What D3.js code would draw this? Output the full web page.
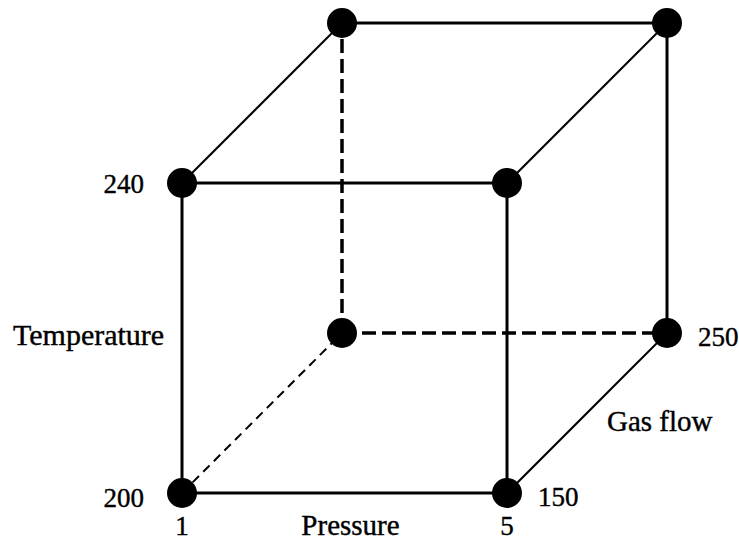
<!DOCTYPE html>
<html>
<head>
<meta charset="utf-8">
<script src="https://cdn.jsdelivr.net/npm/d3@7"></script>
<style>
  body { margin: 0; background: #fff; }
  svg text { font-family: "Liberation Serif", "Times New Roman", serif; fill: #000; stroke: #000; stroke-width: 0.4; }
</style>
</head>
<body>
<div id="chart"></div>
<script>
// factor levels of the 2^3 design
const pressureLevels = [1, 5];
const temperatureLevels = [200, 240];
const gasFlowLevels = [150, 250];
const factorNames = ["Pressure", "Temperature", "Gas flow"];

const width = 739;
const height = 543;

const svg = d3.select("#chart")
  .append("svg")
  .attr("width", width)
  .attr("height", height);

// front face scales, gas flow pushes the point back (right and up)
const x = d3.scaleLinear().domain(pressureLevels).range([182, 507]);
const y = d3.scaleLinear().domain(temperatureLevels).range([493, 183]);
const depth = d3.scaleLinear().domain(gasFlowLevels).range([0, 160]);

const px = d => x(d.p) + depth(d.g);
const py = d => y(d.t) - depth(d.g);

// all 8 corners
const corners = [];
pressureLevels.forEach(p => temperatureLevels.forEach(t => gasFlowLevels.forEach(g => {
  corners.push({p, t, g});
})));

// hidden corner: low pressure, low temperature, high gas flow
const hidden = c => c.p === pressureLevels[0] && c.t === temperatureLevels[0] && c.g === gasFlowLevels[1];

// edges join corners that differ in one factor
const edges = [];
for (let i = 0; i < corners.length; i++) {
  for (let j = i + 1; j < corners.length; j++) {
    const a = corners[i], b = corners[j];
    const diff = (a.p !== b.p) + (a.t !== b.t) + (a.g !== b.g);
    if (diff === 1) edges.push({a, b, depthEdge: a.g !== b.g, dashed: hidden(a) || hidden(b)});
  }
}

svg.append("g")
  .attr("fill", "none")
  .attr("stroke", "#000")
  .selectAll("line")
  .data(edges)
  .join("line")
    .attr("x1", d => px(d.a))
    .attr("y1", d => py(d.a))
    .attr("x2", d => px(d.b))
    .attr("y2", d => py(d.b))
    .attr("stroke-width", d => d.depthEdge ? 2 : (d.dashed ? 3.5 : 3))
    .attr("stroke-dasharray", d => d.dashed ? (d.depthEdge ? "9,6" : "14,6") : null);

svg.append("g")
  .selectAll("circle")
  .data(corners)
  .join("circle")
    .attr("cx", px)
    .attr("cy", py)
    .attr("r", 15)
    .attr("fill", "#000");

// labels
const label = (txt, tx, ty, anchor, fs) => svg.append("text")
  .attr("x", tx).attr("y", ty)
  .attr("text-anchor", anchor || "start")
  .attr("font-size", fs || 27)
  .text(txt);

// temperature levels on the left
temperatureLevels.forEach(t => {
  const c = {p: pressureLevels[0], t, g: gasFlowLevels[0]};
  label(t, px(c) - 38, py(c) + 10 + (t === temperatureLevels[0] ? 4 : 0), "end", 27);
});
// pressure levels under the front bottom edge
pressureLevels.forEach(p => {
  const c = {p, t: temperatureLevels[0], g: gasFlowLevels[0]};
  label(p, px(c), 535, "middle", 27);
});
// gas flow levels on the right
gasFlowLevels.forEach(g => {
  const c = {p: pressureLevels[1], t: temperatureLevels[0], g};
  label(g, px(c) + 31, py(c) + 13, "start", 27);
});

// factor names
label(factorNames[0], (x(pressureLevels[0]) + x(pressureLevels[1])) / 2 + 6, 535, "middle", 29);
label(factorNames[1], 13, 345, "start", 30);
label(factorNames[2], 607, 431, "start", 29);
</script>
</body>
</html>
